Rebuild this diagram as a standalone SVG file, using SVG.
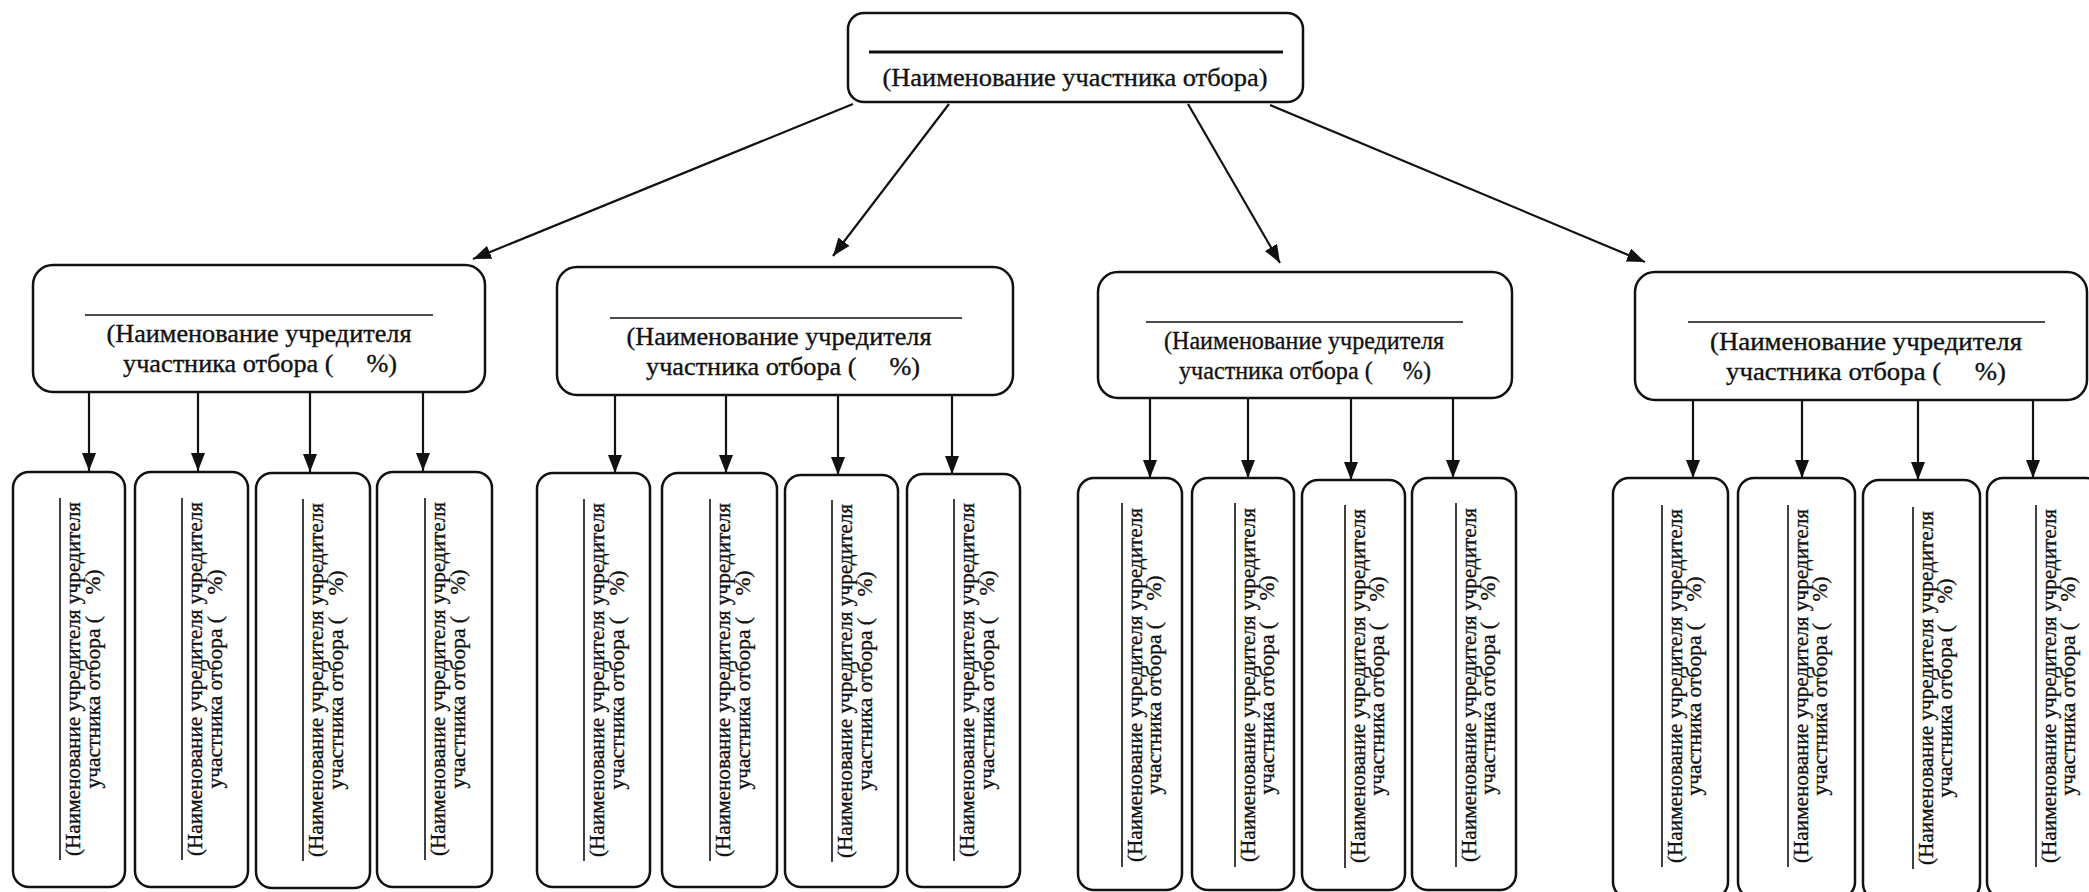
<svg xmlns="http://www.w3.org/2000/svg" width="2089" height="892" viewBox="0 0 2089 892">
<style>
.box{fill:#fff;stroke:#111;stroke-width:2.5}
.rule{stroke:#111;stroke-width:1.6}
.t{font-family:"Liberation Serif","Times New Roman",serif;fill:#111;stroke:#111;stroke-width:0.35;white-space:pre}
.t26{font-size:26px}
.t21{font-size:21px}
.c{stroke:#111;stroke-width:2.2;fill:none;marker-end:url(#ah)}
</style>
<defs>
<marker id="ah" markerUnits="userSpaceOnUse" markerWidth="20" markerHeight="16" refX="18" refY="7" orient="auto">
<path d="M0,0 L18,7 L0,14 z" fill="#111"/>
</marker>
</defs>
<rect width="2089" height="892" fill="#fff"/>

<g id="connectors">
<line class="c" x1="853" y1="104" x2="473" y2="259"/>
<line class="c" x1="949" y1="104" x2="833" y2="256"/>
<line class="c" x1="1188" y1="104" x2="1280" y2="263"/>
<line class="c" x1="1270" y1="105" x2="1645" y2="262"/>

<line class="c" x1="89" y1="392" x2="89" y2="471"/>
<line class="c" x1="198" y1="392" x2="198" y2="471"/>
<line class="c" x1="310" y1="392" x2="310" y2="472"/>
<line class="c" x1="423" y1="392" x2="423" y2="471"/>

<line class="c" x1="615" y1="395" x2="615" y2="473"/>
<line class="c" x1="726" y1="395" x2="726" y2="473"/>
<line class="c" x1="838" y1="395" x2="838" y2="475"/>
<line class="c" x1="952" y1="395" x2="952" y2="474"/>

<line class="c" x1="1150" y1="398" x2="1150" y2="478"/>
<line class="c" x1="1248" y1="398" x2="1248" y2="478"/>
<line class="c" x1="1351" y1="398" x2="1351" y2="480"/>
<line class="c" x1="1453" y1="398" x2="1453" y2="478"/>

<line class="c" x1="1693" y1="400" x2="1693" y2="478"/>
<line class="c" x1="1802" y1="400" x2="1802" y2="478"/>
<line class="c" x1="1918" y1="400" x2="1918" y2="480"/>
<line class="c" x1="2033" y1="400" x2="2033" y2="478"/>
</g>

<g id="root">
<rect class="box" x="848" y="13" width="455" height="89" rx="16"/>
<line x1="869" y1="52" x2="1283" y2="52" stroke="#111" stroke-width="3"/>
<text class="t t26" x="1075" y="86" text-anchor="middle" textLength="385" lengthAdjust="spacingAndGlyphs">(Наименование участника отбора)</text>
</g>

<g id="f1">
<rect class="box" x="33" y="265" width="452" height="127" rx="20"/>
<line class="rule" x1="85" y1="315" x2="433" y2="315"/>
<text class="t t26" text-anchor="middle"><tspan x="259" y="342" textLength="305" lengthAdjust="spacingAndGlyphs">(Наименование учредителя</tspan><tspan x="260" y="372" textLength="274" lengthAdjust="spacingAndGlyphs">участника отбора (     %)</tspan></text>
</g>
<g id="f2">
<rect class="box" x="557" y="267" width="456" height="128" rx="20"/>
<line class="rule" x1="610" y1="318" x2="962" y2="318"/>
<text class="t t26" text-anchor="middle"><tspan x="779" y="345" textLength="305" lengthAdjust="spacingAndGlyphs">(Наименование учредителя</tspan><tspan x="783" y="375" textLength="274" lengthAdjust="spacingAndGlyphs">участника отбора (     %)</tspan></text>
</g>
<g id="f3">
<rect class="box" x="1098" y="272" width="414" height="126" rx="20"/>
<line class="rule" x1="1146" y1="322" x2="1463" y2="322"/>
<text class="t t26" text-anchor="middle"><tspan x="1304" y="349" textLength="280" lengthAdjust="spacingAndGlyphs">(Наименование учредителя</tspan><tspan x="1305" y="379" textLength="252" lengthAdjust="spacingAndGlyphs">участника отбора (     %)</tspan></text>
</g>
<g id="f4">
<rect class="box" x="1635" y="272" width="452" height="128" rx="20"/>
<line class="rule" x1="1688" y1="322" x2="2045" y2="322"/>
<text class="t t26" text-anchor="middle"><tspan x="1866" y="350" textLength="312" lengthAdjust="spacingAndGlyphs">(Наименование учредителя</tspan><tspan x="1866" y="380" textLength="280" lengthAdjust="spacingAndGlyphs">участника отбора (     %)</tspan></text>
</g>

<g id="f1c1">
<rect class="box" x="13" y="472" width="112" height="415" rx="16"/>
<line class="rule" x1="60" y1="498" x2="60" y2="860"/>
<text class="t t21" text-anchor="middle" transform="translate(69 679) rotate(-90)"><tspan x="0" y="11" textLength="354" lengthAdjust="spacingAndGlyphs">(Наименование учредителя учредителя</tspan><tspan x="0" y="31" textLength="219" lengthAdjust="spacingAndGlyphs">участника отбора (    %)</tspan></text>
</g>
<g id="f1c2">
<rect class="box" x="135" y="472" width="113" height="415" rx="16"/>
<line class="rule" x1="182" y1="498" x2="182" y2="860"/>
<text class="t t21" text-anchor="middle" transform="translate(191 679) rotate(-90)"><tspan x="0" y="11" textLength="354" lengthAdjust="spacingAndGlyphs">(Наименование учредителя учредителя</tspan><tspan x="0" y="31" textLength="219" lengthAdjust="spacingAndGlyphs">участника отбора (    %)</tspan></text>
</g>
<g id="f1c3">
<rect class="box" x="256" y="473" width="114" height="415" rx="16"/>
<line class="rule" x1="303" y1="499" x2="303" y2="861"/>
<text class="t t21" text-anchor="middle" transform="translate(312 680) rotate(-90)"><tspan x="0" y="11" textLength="354" lengthAdjust="spacingAndGlyphs">(Наименование учредителя учредителя</tspan><tspan x="0" y="31" textLength="219" lengthAdjust="spacingAndGlyphs">участника отбора (    %)</tspan></text>
</g>
<g id="f1c4">
<rect class="box" x="377" y="472" width="115" height="415" rx="16"/>
<line class="rule" x1="425" y1="498" x2="425" y2="860"/>
<text class="t t21" text-anchor="middle" transform="translate(434 679) rotate(-90)"><tspan x="0" y="11" textLength="354" lengthAdjust="spacingAndGlyphs">(Наименование учредителя учредителя</tspan><tspan x="0" y="31" textLength="219" lengthAdjust="spacingAndGlyphs">участника отбора (    %)</tspan></text>
</g>

<g id="f2c1">
<rect class="box" x="537" y="473" width="113" height="414" rx="16"/>
<line class="rule" x1="584" y1="499" x2="584" y2="861"/>
<text class="t t21" text-anchor="middle" transform="translate(593 680) rotate(-90)"><tspan x="0" y="11" textLength="354" lengthAdjust="spacingAndGlyphs">(Наименование учредителя учредителя</tspan><tspan x="0" y="31" textLength="219" lengthAdjust="spacingAndGlyphs">участника отбора (    %)</tspan></text>
</g>
<g id="f2c2">
<rect class="box" x="662" y="473" width="115" height="414" rx="16"/>
<line class="rule" x1="710" y1="499" x2="710" y2="861"/>
<text class="t t21" text-anchor="middle" transform="translate(719 680) rotate(-90)"><tspan x="0" y="11" textLength="354" lengthAdjust="spacingAndGlyphs">(Наименование учредителя учредителя</tspan><tspan x="0" y="31" textLength="219" lengthAdjust="spacingAndGlyphs">участника отбора (    %)</tspan></text>
</g>
<g id="f2c3">
<rect class="box" x="785" y="475" width="113" height="412" rx="16"/>
<line class="rule" x1="832" y1="500" x2="832" y2="862"/>
<text class="t t21" text-anchor="middle" transform="translate(841 681) rotate(-90)"><tspan x="0" y="11" textLength="354" lengthAdjust="spacingAndGlyphs">(Наименование учредителя учредителя</tspan><tspan x="0" y="31" textLength="219" lengthAdjust="spacingAndGlyphs">участника отбора (    %)</tspan></text>
</g>
<g id="f2c4">
<rect class="box" x="907" y="474" width="113" height="413" rx="16"/>
<line class="rule" x1="954" y1="499" x2="954" y2="861"/>
<text class="t t21" text-anchor="middle" transform="translate(963 680) rotate(-90)"><tspan x="0" y="11" textLength="354" lengthAdjust="spacingAndGlyphs">(Наименование учредителя учредителя</tspan><tspan x="0" y="31" textLength="219" lengthAdjust="spacingAndGlyphs">участника отбора (    %)</tspan></text>
</g>

<g id="f3c1">
<rect class="box" x="1078" y="478" width="104" height="412" rx="16"/>
<line class="rule" x1="1122" y1="503" x2="1122" y2="867"/>
<text class="t t21" text-anchor="middle" transform="translate(1130 685) rotate(-90)"><tspan x="0" y="12" textLength="354" lengthAdjust="spacingAndGlyphs">(Наименование учредителя учредителя</tspan><tspan x="0" y="31" textLength="219" lengthAdjust="spacingAndGlyphs">участника отбора (    %)</tspan></text>
</g>
<g id="f3c2">
<rect class="box" x="1192" y="478" width="102" height="412" rx="16"/>
<line class="rule" x1="1235" y1="503" x2="1235" y2="867"/>
<text class="t t21" text-anchor="middle" transform="translate(1243 685) rotate(-90)"><tspan x="0" y="12" textLength="354" lengthAdjust="spacingAndGlyphs">(Наименование учредителя учредителя</tspan><tspan x="0" y="31" textLength="219" lengthAdjust="spacingAndGlyphs">участника отбора (    %)</tspan></text>
</g>
<g id="f3c3">
<rect class="box" x="1302" y="480" width="103" height="410" rx="16"/>
<line class="rule" x1="1345" y1="505" x2="1345" y2="868"/>
<text class="t t21" text-anchor="middle" transform="translate(1353 686) rotate(-90)"><tspan x="0" y="12" textLength="354" lengthAdjust="spacingAndGlyphs">(Наименование учредителя учредителя</tspan><tspan x="0" y="31" textLength="219" lengthAdjust="spacingAndGlyphs">участника отбора (    %)</tspan></text>
</g>
<g id="f3c4">
<rect class="box" x="1412" y="478" width="104" height="412" rx="16"/>
<line class="rule" x1="1456" y1="503" x2="1456" y2="867"/>
<text class="t t21" text-anchor="middle" transform="translate(1464 685) rotate(-90)"><tspan x="0" y="12" textLength="354" lengthAdjust="spacingAndGlyphs">(Наименование учредителя учредителя</tspan><tspan x="0" y="31" textLength="219" lengthAdjust="spacingAndGlyphs">участника отбора (    %)</tspan></text>
</g>

<g id="f4c1">
<rect class="box" x="1613" y="478" width="115" height="420" rx="16"/>
<line class="rule" x1="1662" y1="505" x2="1662" y2="867"/>
<text class="t t21" text-anchor="middle" transform="translate(1670 686) rotate(-90)"><tspan x="0" y="12" textLength="354" lengthAdjust="spacingAndGlyphs">(Наименование учредителя учредителя</tspan><tspan x="0" y="31" textLength="219" lengthAdjust="spacingAndGlyphs">участника отбора (    %)</tspan></text>
</g>
<g id="f4c2">
<rect class="box" x="1738" y="478" width="117" height="420" rx="16"/>
<line class="rule" x1="1788" y1="505" x2="1788" y2="867"/>
<text class="t t21" text-anchor="middle" transform="translate(1796 686) rotate(-90)"><tspan x="0" y="12" textLength="354" lengthAdjust="spacingAndGlyphs">(Наименование учредителя учредителя</tspan><tspan x="0" y="31" textLength="219" lengthAdjust="spacingAndGlyphs">участника отбора (    %)</tspan></text>
</g>
<g id="f4c3">
<rect class="box" x="1863" y="480" width="117" height="420" rx="16"/>
<line class="rule" x1="1913" y1="507" x2="1913" y2="869"/>
<text class="t t21" text-anchor="middle" transform="translate(1921 688) rotate(-90)"><tspan x="0" y="12" textLength="354" lengthAdjust="spacingAndGlyphs">(Наименование учредителя учредителя</tspan><tspan x="0" y="31" textLength="219" lengthAdjust="spacingAndGlyphs">участника отбора (    %)</tspan></text>
</g>
<g id="f4c4">
<rect class="box" x="1987" y="478" width="115" height="420" rx="16"/>
<line class="rule" x1="2036" y1="505" x2="2036" y2="867"/>
<text class="t t21" text-anchor="middle" transform="translate(2044 686) rotate(-90)"><tspan x="0" y="12" textLength="354" lengthAdjust="spacingAndGlyphs">(Наименование учредителя учредителя</tspan><tspan x="0" y="31" textLength="219" lengthAdjust="spacingAndGlyphs">участника отбора (    %)</tspan></text>
</g>
</svg>
